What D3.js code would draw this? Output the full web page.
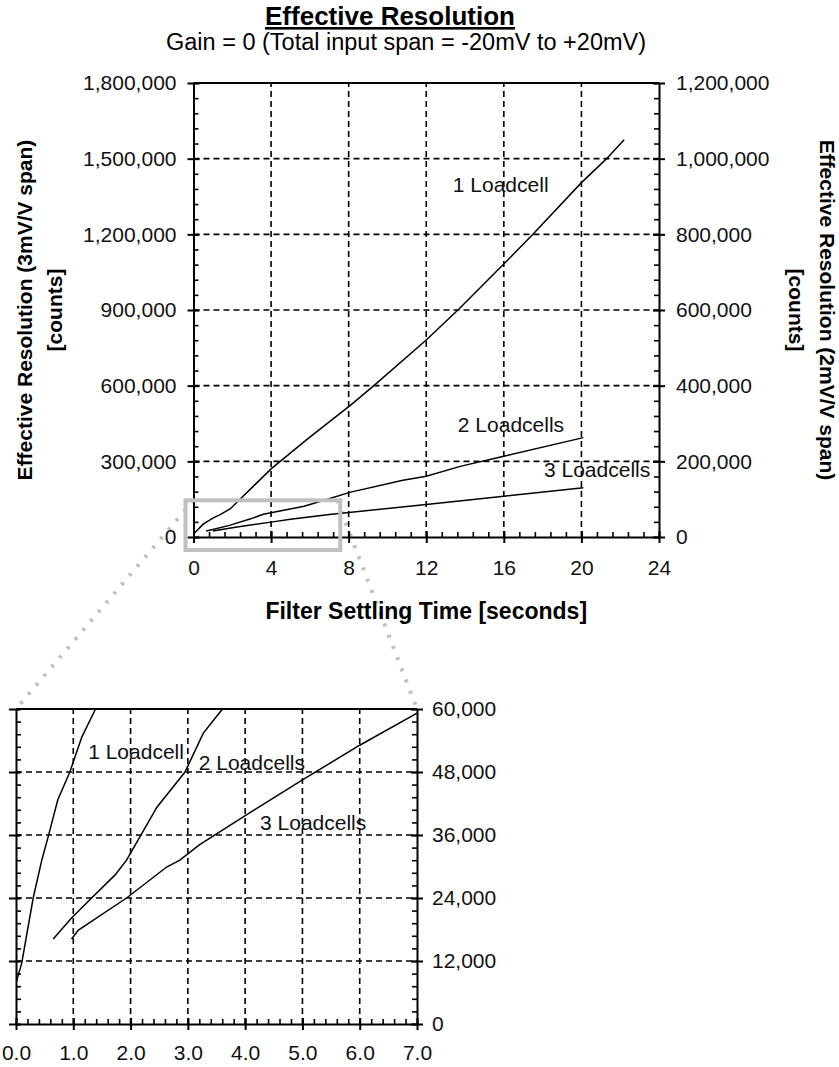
<!DOCTYPE html>
<html>
<head>
<meta charset="utf-8">
<script src="https://cdn.jsdelivr.net/npm/d3@7"></script>
<style>
  body { margin: 0; background: #fff; }
  svg { display: block; font-family: 'Liberation Sans', Arial, sans-serif; }
</style>
</head>
<body>
<div id="wrapper"></div>
<script>
// series: [seconds, counts]
// main chart values are in left-axis counts (3mV/V span)
const mainOne = [[0, 12000], [0.5, 51000], [1, 75000], [1.4, 90000], [1.9, 112000],
  [4, 270000], [5.9, 390000], [8.1, 523000], [9.3, 600000], [12, 781000],
  [13.7, 905000], [16.1, 1090000], [17.5, 1200000], [20, 1405000], [21.3, 1500000], [22.2, 1575000]]
const mainTwo = [[0.65, 24000], [1, 30000], [1.9, 47000], [2.95, 72000], [3.6, 90000],
  [5.7, 122000], [6.9, 150000], [8.1, 178000], [10.8, 225000], [12, 241000],
  [13.8, 281000], [16, 320000], [20.1, 394000]]
const mainThree = [[1, 24000], [2, 37000], [2.86, 47000], [4, 59000], [5, 70000],
  [7, 89000], [12, 129000], [16, 162000], [20.1, 195000]]

// zoomed chart values are in right-axis counts (2mV/V span)
const zoomOne = [[0, 7800], [0.1, 11600], [0.3, 24000], [0.45, 31200], [0.56, 35600],
  [0.73, 42700], [0.94, 48000], [1.15, 54700], [1.38, 59800], [1.42, 61000]]
const zoomTwo = [[0.65, 16200], [0.97, 20200], [1.32, 24000], [1.73, 28400], [1.93, 31200],
  [2.16, 35600], [2.46, 41300], [2.95, 48000], [3.27, 55400], [3.59, 59800], [3.65, 61000]]
const zoomThree = [[0.97, 16200], [1.09, 17900], [1.93, 24000], [2.63, 29900], [2.86, 31200],
  [3.2, 34100], [3.96, 39400], [5, 46500], [6, 53100], [7, 59200]]

const seriesNames = ['1 Loadcell', '2 Loadcells', '3 Loadcells']

const mainXTicks = [0, 4, 8, 12, 16, 20, 24]
const leftTicks = [0, 300000, 600000, 900000, 1200000, 1500000, 1800000]
const rightTicks = [0, 200000, 400000, 600000, 800000, 1000000, 1200000]
const zoomXTicks = [0, 1, 2, 3, 4, 5, 6, 7]
const zoomYTicks = [0, 12000, 24000, 36000, 48000, 60000]

const width = 839
const height = 1067
const font = 21

const svg = d3.select('#wrapper').append('svg')
  .attr('width', width).attr('height', height)
svg.append('rect').attr('width', width).attr('height', height).attr('fill', '#fff')

// scales
const xMain = d3.scaleLinear().domain([0, 24]).range([193.5, 659])
const yLeft = d3.scaleLinear().domain([0, 1800000]).range([537, 83])
const yRight = d3.scaleLinear().domain([0, 1200000]).range([537, 83])
const xZoom = d3.scaleLinear().domain([0, 7]).range([16, 417])
const yZoom = d3.scaleLinear().domain([0, 60000]).range([1024, 709])

const fmt = d3.format(',')

// titles
svg.append('text')
  .attr('x', 390).attr('y', 25)
  .attr('text-anchor', 'middle')
  .attr('font-size', 26).attr('font-weight', 'bold')
  .attr('text-decoration', 'underline')
  .text('Effective Resolution')
svg.append('text')
  .attr('x', 406).attr('y', 50)
  .attr('text-anchor', 'middle')
  .attr('font-size', 23.5)
  .text('Gain = 0 (Total input span = -20mV to +20mV)')

// ---------- connectors from the main chart to the zoomed chart ----------
const boxTop = yRight(60000) - 14
const boxBottom = yRight(0) + 13
const boxLeft = xMain(0) - 8
const boxRight = xMain(7) + 11

const conn = svg.append('g')
  .attr('stroke', '#c0c0c0').attr('stroke-width', 4)
  .attr('stroke-dasharray', '3,9')
conn.append('line')
  .attr('x1', xMain(0)).attr('y1', boxTop)
  .attr('x2', xZoom(0)).attr('y2', yZoom(60000))
conn.append('line')
  .attr('x1', xMain(7.4)).attr('y1', boxTop)
  .attr('x2', xZoom(7)).attr('y2', yZoom(60000))

// ---------- helper for grid + frame ----------
function drawPanel(g, opt) {
  const { x, y, xTicks, yTicks } = opt
  const [x0, x1] = x.range()
  const [y0, y1] = y.range()

  // dashed grid
  const grid = g.append('g')
    .attr('stroke', '#000').attr('stroke-width', 1.6)
    .attr('stroke-dasharray', '6,4')
  grid.selectAll('.vg').data(xTicks.slice(1, -1)).join('line')
    .attr('x1', (d) => x(d)).attr('x2', (d) => x(d))
    .attr('y1', y0).attr('y2', y1)
  grid.selectAll('.hg').data(yTicks.slice(1, -1)).join('line')
    .attr('x1', x0).attr('x2', x1)
    .attr('y1', (d) => y(d)).attr('y2', (d) => y(d))

  // solid top frame
  g.append('line')
    .attr('x1', x0).attr('x2', x1).attr('y1', y1).attr('y2', y1)
    .attr('stroke', '#000').attr('stroke-width', 2)
}

function styleAxis(sel) {
  sel.select('.domain').attr('stroke-width', 2)
  sel.selectAll('.tick line').attr('stroke-width', 2)
  sel.selectAll('text').attr('font-size', font).attr('fill', '#111')
    .attr('font-family', "'Liberation Sans', Arial, sans-serif")
}

// small inward ticks without labels
function minorAxis(g, axisFn, scale, values, size, transform) {
  g.append('g')
    .attr('transform', transform)
    .call(axisFn(scale).tickValues(values).tickSize(size).tickSizeOuter(0).tickFormat(''))
    .call((s) => s.select('.domain').remove())
    .selectAll('.tick line').attr('stroke-width', 1.6)
}

// ---------- main chart ----------
const main = svg.append('g')
drawPanel(main, { x: xMain, y: yLeft, xTicks: mainXTicks, yTicks: leftTicks })

const leftMinor = d3.range(0, 1800001, 60000)
const rightMinor = d3.range(0, 1200001, 40000)
const mainXMinor = d3.range(0, 24.01, 0.8)

minorAxis(main, d3.axisLeft, yLeft, leftMinor, -5, `translate(${xMain(0)},0)`)
minorAxis(main, d3.axisRight, yRight, rightMinor, -5, `translate(${xMain(24)},0)`)
minorAxis(main, d3.axisBottom, xMain, mainXMinor, -5, `translate(0,${yLeft(0)})`)

main.append('g')
  .attr('transform', `translate(${xMain(0)},0)`)
  .call(d3.axisLeft(yLeft).tickValues(leftTicks).tickFormat(fmt).tickSize(6).tickSizeOuter(0).tickPadding(11))
  .call(styleAxis)
  .call((s) => s.selectAll('.tick line').attr('x1', 6))

main.append('g')
  .attr('transform', `translate(${xMain(24)},0)`)
  .call(d3.axisRight(yRight).tickValues(rightTicks).tickFormat(fmt).tickSize(6).tickSizeOuter(0).tickPadding(11))
  .call(styleAxis)
  .call((s) => s.selectAll('.tick line').attr('x1', -6))

main.append('g')
  .attr('transform', `translate(0,${yLeft(0)})`)
  .call(d3.axisBottom(xMain).tickValues(mainXTicks).tickSize(6).tickSizeOuter(0).tickPadding(17))
  .call(styleAxis)
  .call((s) => s.selectAll('.tick line').attr('y1', -6))

// axis titles
const midMain = (yLeft(0) + yLeft(1800000)) / 2
const leftTitle = svg.append('text')
  .attr('transform', `translate(25,${midMain}) rotate(-90)`)
  .attr('text-anchor', 'middle').attr('font-size', font).attr('font-weight', 'bold')
leftTitle.append('tspan').attr('x', 0).attr('dy', '0.35em').text('Effective Resolution (3mV/V span)')
leftTitle.append('tspan').attr('x', 0).attr('dy', 30).text('[counts]')

const rightTitle = svg.append('text')
  .attr('transform', `translate(827,${midMain}) rotate(90)`)
  .attr('text-anchor', 'middle').attr('font-size', font).attr('font-weight', 'bold')
rightTitle.append('tspan').attr('x', 0).attr('dy', '0.35em').text('Effective Resolution (2mV/V span)')
rightTitle.append('tspan').attr('x', 0).attr('dy', 31).text('[counts]')

svg.append('text')
  .attr('x', (xMain(0) + xMain(24)) / 2).attr('y', yLeft(0) + 82)
  .attr('text-anchor', 'middle').attr('font-size', 23).attr('font-weight', 'bold')
  .text('Filter Settling Time [seconds]')

// lines
const lineMain = d3.line().x((d) => xMain(d[0])).y((d) => yLeft(d[1]))
main.selectAll('.series').data([mainOne, mainTwo, mainThree]).join('path')
  .attr('d', lineMain)
  .attr('fill', 'none').attr('stroke', '#000').attr('stroke-width', 1.5)

// series labels (main) - anchors in data units
const mainLabelAt = [[13.37, 1368000], [13.63, 416000], [18.07, 238000]]
main.selectAll('.lbl').data(seriesNames).join('text')
  .attr('x', (d, i) => xMain(mainLabelAt[i][0]))
  .attr('y', (d, i) => yLeft(mainLabelAt[i][1]))
  .attr('font-size', font).attr('fill', '#111')
  .text((d) => d)

// zoom box on the main chart
svg.append('rect')
  .attr('x', boxLeft).attr('y', boxTop)
  .attr('width', boxRight - boxLeft).attr('height', boxBottom - boxTop)
  .attr('fill', 'none').attr('stroke', '#c0c0c0').attr('stroke-width', 4)

// ---------- zoomed chart ----------
const zoom = svg.append('g')
drawPanel(zoom, { x: xZoom, y: yZoom, xTicks: zoomXTicks, yTicks: zoomYTicks })

const zoomYMinor = d3.range(0, 60001, 2400)
const zoomXMinor = d3.range(0, 7.001, 0.2)

minorAxis(zoom, d3.axisLeft, yZoom, zoomYMinor, -5, `translate(${xZoom(0)},0)`)
minorAxis(zoom, d3.axisRight, yZoom, zoomYMinor, -5, `translate(${xZoom(7)},0)`)
minorAxis(zoom, d3.axisBottom, xZoom, zoomXMinor, -5, `translate(0,${yZoom(0)})`)

zoom.append('g')
  .attr('transform', `translate(${xZoom(0)},0)`)
  .call(d3.axisLeft(yZoom).tickValues(zoomYTicks).tickFormat('').tickSize(7).tickSizeOuter(0))
  .call(styleAxis)
  .call((s) => s.selectAll('.tick line').attr('x1', 4))

zoom.append('g')
  .attr('transform', `translate(${xZoom(7)},0)`)
  .call(d3.axisRight(yZoom).tickValues(zoomYTicks).tickFormat(fmt).tickSize(6).tickSizeOuter(0).tickPadding(9))
  .call(styleAxis)
  .call((s) => s.selectAll('.tick line').attr('x1', -6))

zoom.append('g')
  .attr('transform', `translate(0,${yZoom(0)})`)
  .call(d3.axisBottom(xZoom).tickValues(zoomXTicks).tickFormat(d3.format('.1f')).tickSize(6).tickSizeOuter(0).tickPadding(15))
  .call(styleAxis)
  .call((s) => s.selectAll('.tick line').attr('y1', -6))

svg.append('clipPath').attr('id', 'zoomClip')
  .append('rect')
  .attr('x', xZoom(0)).attr('y', yZoom(60000))
  .attr('width', xZoom(7) - xZoom(0)).attr('height', yZoom(0) - yZoom(60000))

const lineZoom = d3.line().x((d) => xZoom(d[0])).y((d) => yZoom(d[1]))
zoom.append('g').attr('clip-path', 'url(#zoomClip)')
  .selectAll('path').data([zoomOne, zoomTwo, zoomThree]).join('path')
  .attr('d', lineZoom)
  .attr('fill', 'none').attr('stroke', '#000').attr('stroke-width', 1.5)

const zoomLabelAt = [[1.26, 50480], [3.19, 48380], [4.26, 36950]]
zoom.selectAll('.lbl').data(seriesNames).join('text')
  .attr('x', (d, i) => xZoom(zoomLabelAt[i][0]))
  .attr('y', (d, i) => yZoom(zoomLabelAt[i][1]))
  .attr('font-size', font).attr('fill', '#111')
  .text((d) => d)
</script>
</body>
</html>
